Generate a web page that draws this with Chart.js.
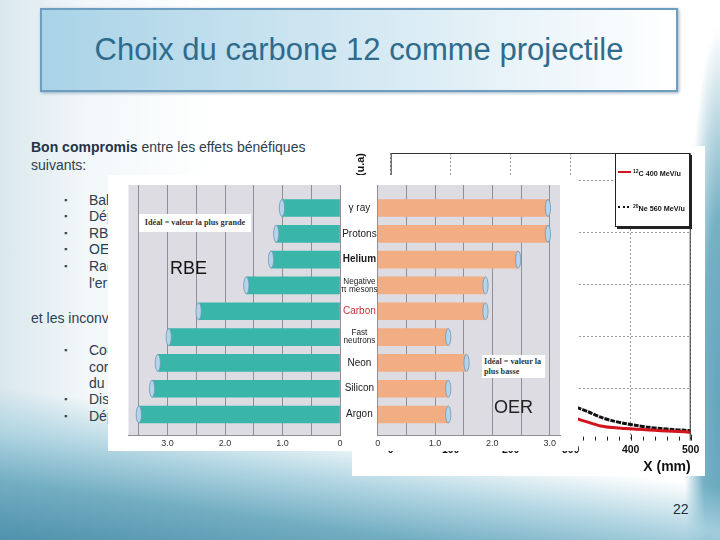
<!DOCTYPE html>
<html>
<head>
<meta charset="utf-8">
<script src="https://cdn.jsdelivr.net/npm/chart.js@4.4.1/dist/chart.umd.min.js"></script>
<style>
html, body { margin: 0; padding: 0; }
body {
  width: 720px; height: 540px; overflow: hidden; position: relative;
  font-family: "Liberation Sans", Arial, sans-serif; color: #2d3e50;
  background:
    linear-gradient(188deg, rgba(255,255,255,0) 76%, rgba(170,210,224,0.85) 83%, #72adc2 91%, #4f92ab 100%),
    radial-gradient(ellipse 5% 70% at 100% 75%, #63a5bc 0%, #76b1c5 50%, rgba(125,181,200,0) 100%),
    linear-gradient(90deg, #dae8ee 0%, #f2f7f9 12%, #ffffff 30%);
}
.abs { position: absolute; }
#title {
  left: 40px; top: 8px; width: 634px; height: 80px;
  border: 2px solid #6d9dbf; box-shadow: 1px 1px 3px rgba(60,100,130,0.5);
  background: linear-gradient(90deg, #a9d3e7 0%, #cfe6f1 45%, #ffffff 100%);
  color: #2e6b8c; font-size: 31px; text-align: center; line-height: 80px;
}
.txt { font-size: 14px; white-space: nowrap; line-height: 17px; }
.bul { font-size: 9px; }
#bragg-box { left: 352px; top: 146px; width: 353px; height: 330px; background: #fff; }
#legend {
  left: 615px; top: 153px; width: 73px; height: 72px; background: #fff;
  border: 1px solid #222; box-shadow: 2px 2px 0 #222;
  font-size: 7.2px; font-weight: bold; color: #111;
}
#legend .item { position: absolute; left: 17px; white-space: nowrap; }
#legend .line { position: absolute; left: 2px; width: 13px; }
#legend sup { font-size: 5px; vertical-align: 3px; }
#overlay { left: 108px; top: 175px; width: 470px; height: 276px; background: #fff; }
.ideal {
  background: #fff; font-family: "Liberation Serif", "Times New Roman", serif;
  font-weight: bold; font-size: 8.2px; color: #333; white-space: nowrap;
}
.big { font-size: 18px; color: #151515; }
</style>
</head>
<body>

<div id="title" class="abs">Choix du carbone 12 comme projectile</div>

<div class="abs txt" style="left:31px;top:139px;"><b style="color:#1f3347">Bon compromis</b> entre les effets bénéfiques</div>
<div class="abs txt" style="left:31px;top:157px;">suivants:</div>

<div class="abs txt bul" style="left:64px;top:192px;">&#9642;</div><div class="abs txt" style="left:89px;top:192px;">Balistique : pic de Bragg étroit</div>
<div class="abs txt bul" style="left:64px;top:208px;">&#9642;</div><div class="abs txt" style="left:89px;top:208px;">Dépôt de dose en profondeur</div>
<div class="abs txt bul" style="left:64px;top:225px;">&#9642;</div><div class="abs txt" style="left:89px;top:225px;">RBE élevée dans le pic</div>
<div class="abs txt bul" style="left:64px;top:241px;">&#9642;</div><div class="abs txt" style="left:89px;top:241px;">OER faible</div>
<div class="abs txt bul" style="left:64px;top:258px;">&#9642;</div><div class="abs txt" style="left:89px;top:258px;">Radioactivité induite permettant</div>
<div class="abs txt" style="left:89px;top:275px;">l'erreur de parcours contrôlée</div>

<div class="abs txt" style="left:31px;top:310px;">et les inconvénients suivants:</div>

<div class="abs txt bul" style="left:64px;top:342px;">&#9642;</div><div class="abs txt" style="left:89px;top:342px;">Coût et complexité de</div>
<div class="abs txt" style="left:89px;top:359px;">correction de la fragmentation</div>
<div class="abs txt" style="left:89px;top:375px;">du projectile</div>
<div class="abs txt bul" style="left:64px;top:391px;">&#9642;</div><div class="abs txt" style="left:89px;top:391px;">Dispersion latérale</div>
<div class="abs txt bul" style="left:64px;top:408px;">&#9642;</div><div class="abs txt" style="left:89px;top:408px;">Dépôt de dose après le pic</div>

<div id="bragg-box" class="abs"><canvas id="bragg" width="353" height="330"></canvas></div>
<div id="legend" class="abs">
  <div class="line" style="top:17px;height:2px;background:#d4141c;"></div>
  <div class="item" style="top:14px;"><sup>12</sup>C 400 MeV/u</div>
  <div class="line" style="top:52px;height:0;border-top:2px dotted #111;width:11px;"></div>
  <div class="item" style="top:49px;"><sup>20</sup>Ne 560 MeV/u</div>
</div>

<div id="overlay" class="abs"></div>
<div class="abs" style="left:108px;top:175px;"><canvas id="rbe" width="240" height="281"></canvas></div>
<div class="abs" style="left:340px;top:175px;"><canvas id="oer" width="238" height="281"></canvas></div>

<div class="abs ideal" style="left:139px;top:214px;width:112px;height:18px;line-height:18px;text-align:center;">Idéal = valeur la plus grande</div>
<div class="abs big" style="left:170px;top:258px;">RBE</div>
<div class="abs ideal" style="left:482px;top:355px;width:63px;height:23px;line-height:9.5px;padding:2px 0 0 2px;box-sizing:border-box;">Idéal = valeur la<br>plus basse</div>
<div class="abs big" style="left:494px;top:397px;color:#222;">OER</div>

<div class="abs" style="left:673px;top:501px;font-size:14px;color:#1b2f3f;">22</div>

<script>
// particle types (rows, top to bottom)
const particles = ['γ ray', 'Protons', 'Helium', ['Negative', 'π mesons'], 'Carbon', ['Fast', 'neutrons'], 'Neon', 'Silicon', 'Argon'];
const rbeValues = [1.01, 1.11, 1.2, 1.63, 2.46, 2.98, 3.17, 3.27, 3.5];
const oerValues = [2.97, 2.97, 2.45, 1.88, 1.88, 1.23, 1.55, 1.23, 1.23];
const tickValues = [0, 1, 2, 3];
const tickTexts = ['0', '1.0', '2.0', '3.0'];

// depth-dose tails of the background plot
const depthMm = [310, 330, 350, 370, 390, 410, 430, 450, 470, 490, 500];
const carbonDose = [0.42, 0.35, 0.28, 0.25, 0.235, 0.22, 0.205, 0.19, 0.178, 0.168, 0.16];
const neonDose = [0.64, 0.55, 0.45, 0.38, 0.33, 0.29, 0.255, 0.232, 0.212, 0.198, 0.19];
const depthTicks = [0, 100, 200, 300, 400, 500];
const doseGrid = [1, 2, 3, 4, 5];

const plotBg = {
  id: 'plotBg',
  beforeDraw(chart, args, opts) {
    const a = chart.chartArea, ctx = chart.ctx;
    ctx.save();
    ctx.fillStyle = opts.color;
    ctx.fillRect(a.left, a.top, a.right - a.left, a.bottom - a.top);
    ctx.restore();
  }
};

const barCap = {
  id: 'barCap',
  afterDatasetsDraw(chart) {
    const ctx = chart.ctx;
    chart.getDatasetMeta(0).data.forEach(el => {
      ctx.save();
      ctx.beginPath();
      ctx.ellipse(el.x, el.y, 2.6, el.height / 2, 0, 0, Math.PI * 2);
      ctx.fillStyle = '#b4d4ea';
      ctx.fill();
      ctx.lineWidth = 0.8;
      ctx.strokeStyle = '#6f97b8';
      ctx.stroke();
      ctx.restore();
    });
  }
};

function tickLabel(v) {
  const i = tickValues.indexOf(v);
  return i < 0 ? '' : tickTexts[i];
}

function barChart(id, values, color, xMax, reverse, showLabels, padding) {
  return new Chart(document.getElementById(id), {
    type: 'bar',
    data: {
      datasets: [{
        data: values.map((v, i) => ({ x: v, y: i })),
        backgroundColor: color,
        barThickness: 17
      }]
    },
    options: {
      indexAxis: 'y',
      responsive: false,
      animation: false,
      layout: { padding },
      plugins: { legend: { display: false }, tooltip: { enabled: false }, plotBg: { color: '#dcdce2' } },
      scales: {
        x: {
          type: 'linear', min: 0, max: xMax, reverse,
          grid: { color: '#8f8f97', drawTicks: false, tickLength: 0 },
          border: { color: '#8f8f97' },
          ticks: {
            stepSize: 0.5, includeBounds: false, autoSkip: false, maxRotation: 0, padding: 3,
            color: '#333', font: { family: 'Liberation Sans', size: 9 },
            callback: tickLabel
          }
        },
        y: {
          type: 'linear', min: -0.89, max: 8.8, reverse: true, offset: false,
          display: showLabels,
          afterBuildTicks: s => { s.ticks = particles.map((p, i) => ({ value: i })); },
          afterFit: s => { s.width = showLabels ? 37.7 : 0; },
          grid: { display: false, drawTicks: false, tickLength: 0 },
          border: { display: false },
          ticks: {
            autoSkip: false, padding: 0, crossAlign: 'center',
            callback: v => particles[v],
            color: c => c.index === 4 ? '#c8313a' : '#1a1a1a',
            font: c => ({
              family: 'Liberation Sans',
              size: Array.isArray(particles[c.index]) ? 8.2 : 10,
              lineHeight: 0.95,
              weight: c.index === 2 ? 'bold' : 'normal'
            })
          }
        }
      }
    },
    plugins: [plotBg, barCap]
  });
}

barChart('rbe', rbeValues, '#3ab5aa', 3.68, true, false, { left: 20.5, right: 8, top: 10, bottom: 4 });
barChart('oer', oerValues, '#f2ad83', 3.18, false, true, { left: 0, right: 18, top: 10, bottom: 4 });

const frame = {
  id: 'frame',
  afterDraw(chart) {
    const a = chart.chartArea, ctx = chart.ctx, xs = chart.scales.x;
    ctx.save();
    ctx.strokeStyle = '#333';
    ctx.lineWidth = 1;
    ctx.beginPath();
    ctx.moveTo(a.left + 0.5, a.bottom);
    ctx.lineTo(a.left + 0.5, a.top + 0.5);
    ctx.lineTo(a.right - 0.5, a.top + 0.5);
    ctx.lineTo(a.right - 0.5, a.bottom);
    ctx.stroke();
    ctx.strokeStyle = '#222';
    for (let v = 0; v <= 500; v += 20) {
      const px = Math.round(xs.getPixelForValue(v)) + 0.5;
      ctx.beginPath();
      ctx.moveTo(px, a.bottom);
      ctx.lineTo(px, a.bottom - (v % 100 === 0 ? 6 : 4));
      ctx.stroke();
    }
    ctx.restore();
  }
};

new Chart(document.getElementById('bragg'), {
  type: 'line',
  data: {
    datasets: [
      { label: '12C 400 MeV/u', data: depthMm.map((x, i) => ({ x, y: carbonDose[i] })),
        borderColor: '#d4141c', borderWidth: 3, pointRadius: 0, tension: 0.3 },
      { label: '20Ne 560 MeV/u', data: depthMm.map((x, i) => ({ x, y: neonDose[i] })),
        borderColor: '#111', borderWidth: 3, borderDash: [5, 1], pointRadius: 0, tension: 0.3 }
    ]
  },
  options: {
    responsive: false,
    animation: false,
    layout: { padding: { top: 7, right: 14.3, left: 0, bottom: 0 } },
    plugins: { legend: { display: false }, tooltip: { enabled: false } },
    scales: {
      x: {
        type: 'linear', min: 0, max: 500,
        afterBuildTicks: s => { s.ticks = depthTicks.map(v => ({ value: v })); },
        grid: { color: '#9a9a9a', drawTicks: false },
        border: { display: false, dash: [2, 2] },
        ticks: { padding: 3, maxRotation: 0, color: '#111', font: { family: 'Liberation Sans', size: 10.5, weight: 'bold' } },
        title: { display: true, text: 'X (mm)', align: 'end', padding: 0, color: '#111',
          font: { family: 'Liberation Sans', size: 14, weight: 'bold' } }
      },
      y: {
        min: 0, max: 5.53,
        afterBuildTicks: s => { s.ticks = doseGrid.map(v => ({ value: v })); },
        afterFit: s => { s.width = 38.7; },
        grid: { color: '#9a9a9a', drawTicks: false },
        border: { display: false, dash: [2, 2] },
        ticks: { display: false },
        title: { display: true, text: 'Dose (u.a)', align: 'end', padding: { top: 2, bottom: 0 }, color: '#111',
          font: { family: 'Liberation Sans', size: 11, weight: 'bold' } }
      }
    }
  },
  plugins: [frame]
});
</script>
</body>
</html>
